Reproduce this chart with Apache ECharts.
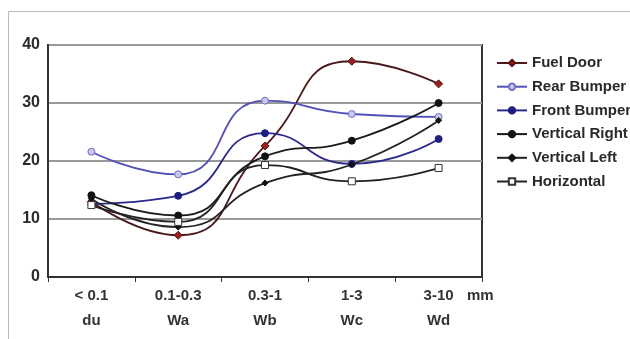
<!DOCTYPE html>
<html>
<head>
<meta charset="utf-8">
<script src="https://cdn.jsdelivr.net/npm/echarts@6/dist/echarts.min.js"></script>
<style>
html,body{margin:0;padding:0;background:#fff;}
#chart{width:630px;height:339px;}
</style>
</head>
<body>
<div id="chart"></div>
<script>
var categories = ['< 0.1\ndu', '0.1-0.3\nWa', '0.3-1\nWb', '1-3\nWc', '3-10\nWd'];
var fuelDoor = [13.0, 7.2, 22.6, 37.2, 33.3];
var rearBumper = [21.6, 17.7, 30.4, 28.1, 27.6];
var frontBumper = [12.6, 14.0, 24.8, 19.5, 23.8];
var verticalRight = [14.1, 10.6, 20.8, 23.5, 30.0];
var verticalLeft = [13.5, 8.6, 16.2, 19.4, 27.0];
var horizontal = [12.4, 9.5, 19.3, 16.5, 18.8];
var yTicks = [0, 10, 20, 30, 40];
var unitLabel = 'mm';

var chart = echarts.init(document.getElementById('chart'));
var font = 'Arial, "Liberation Sans", sans-serif';
function mk(name, data, lineColor, symbol, fill, border, size) {
  return {
    name: name, type: 'line', data: data, smooth: 0.55,
    symbol: symbol, symbolSize: size,
    lineStyle: {color: lineColor, width: 1.8},
    itemStyle: {color: fill, borderColor: border, borderWidth: 1},
    emphasis: {disabled: true}
  };
}
chart.setOption({
  animation: false,
  backgroundColor: '#fff',
  textStyle: {fontFamily: font},
  grid: {left: 48, right: 148, top: 45, bottom: 62, show: true, borderColor: '#333', borderWidth: 2, backgroundColor: 'transparent'},
  legend: {
    orient: 'vertical', left: 491, top: 48,
    itemWidth: 30, itemHeight: 8, itemGap: 3.7,
    textStyle: {fontSize: 15, color: '#2a2a2a', fontWeight: 'bold', lineHeight: 20, fontFamily: font},
    data: ['Fuel Door', 'Rear Bumper', 'Front Bumper', 'Vertical Right', 'Vertical Left', 'Horizontal']
  },
  xAxis: {
    type: 'category', data: categories, boundaryGap: true,
    axisLine: {lineStyle: {color: '#333', width: 2}},
    axisTick: {show: true, length: 5, lineStyle: {color: '#333', width: 1}},
    axisLabel: {fontSize: 15, color: '#333', fontWeight: 'bold', lineHeight: 25, margin: 6, fontFamily: font}
  },
  yAxis: {
    type: 'value', min: yTicks[0], max: yTicks[yTicks.length - 1], interval: 10,
    axisLine: {show: true, lineStyle: {color: '#333', width: 2}},
    axisTick: {show: false},
    axisLabel: {fontSize: 16, color: '#2a2a2a', fontWeight: 'bold', margin: 8, fontFamily: font},
    splitLine: {lineStyle: {color: '#999', width: 2}}
  },
  graphic: [
    {type: 'rect', shape: {x: 8.5, y: 11.5, width: 800, height: 500}, style: {fill: 'none', stroke: '#bbb', lineWidth: 1}, silent: true},
    {type: 'text', left: 467, top: 288, style: {text: unitLabel, fontSize: 15, fontWeight: 'bold', fill: '#333', fontFamily: font}}
  ],
  series: [
    mk('Fuel Door', fuelDoor, '#4a1818', 'diamond', '#9b2020', '#5a1010', 8),
    mk('Rear Bumper', rearBumper, '#5050b8', 'circle', '#c8c8ec', '#7070c0', 7),
    mk('Front Bumper', frontBumper, '#2a2a8c', 'circle', '#1e1e80', '#1e1e80', 7),
    mk('Vertical Right', verticalRight, '#1a1a1a', 'circle', '#111', '#111', 7),
    mk('Vertical Left', verticalLeft, '#222', 'diamond', '#111', '#111', 6),
    mk('Horizontal', horizontal, '#222', 'rect', '#fff', '#333', 7)
  ]
});
</script>
</body>
</html>
